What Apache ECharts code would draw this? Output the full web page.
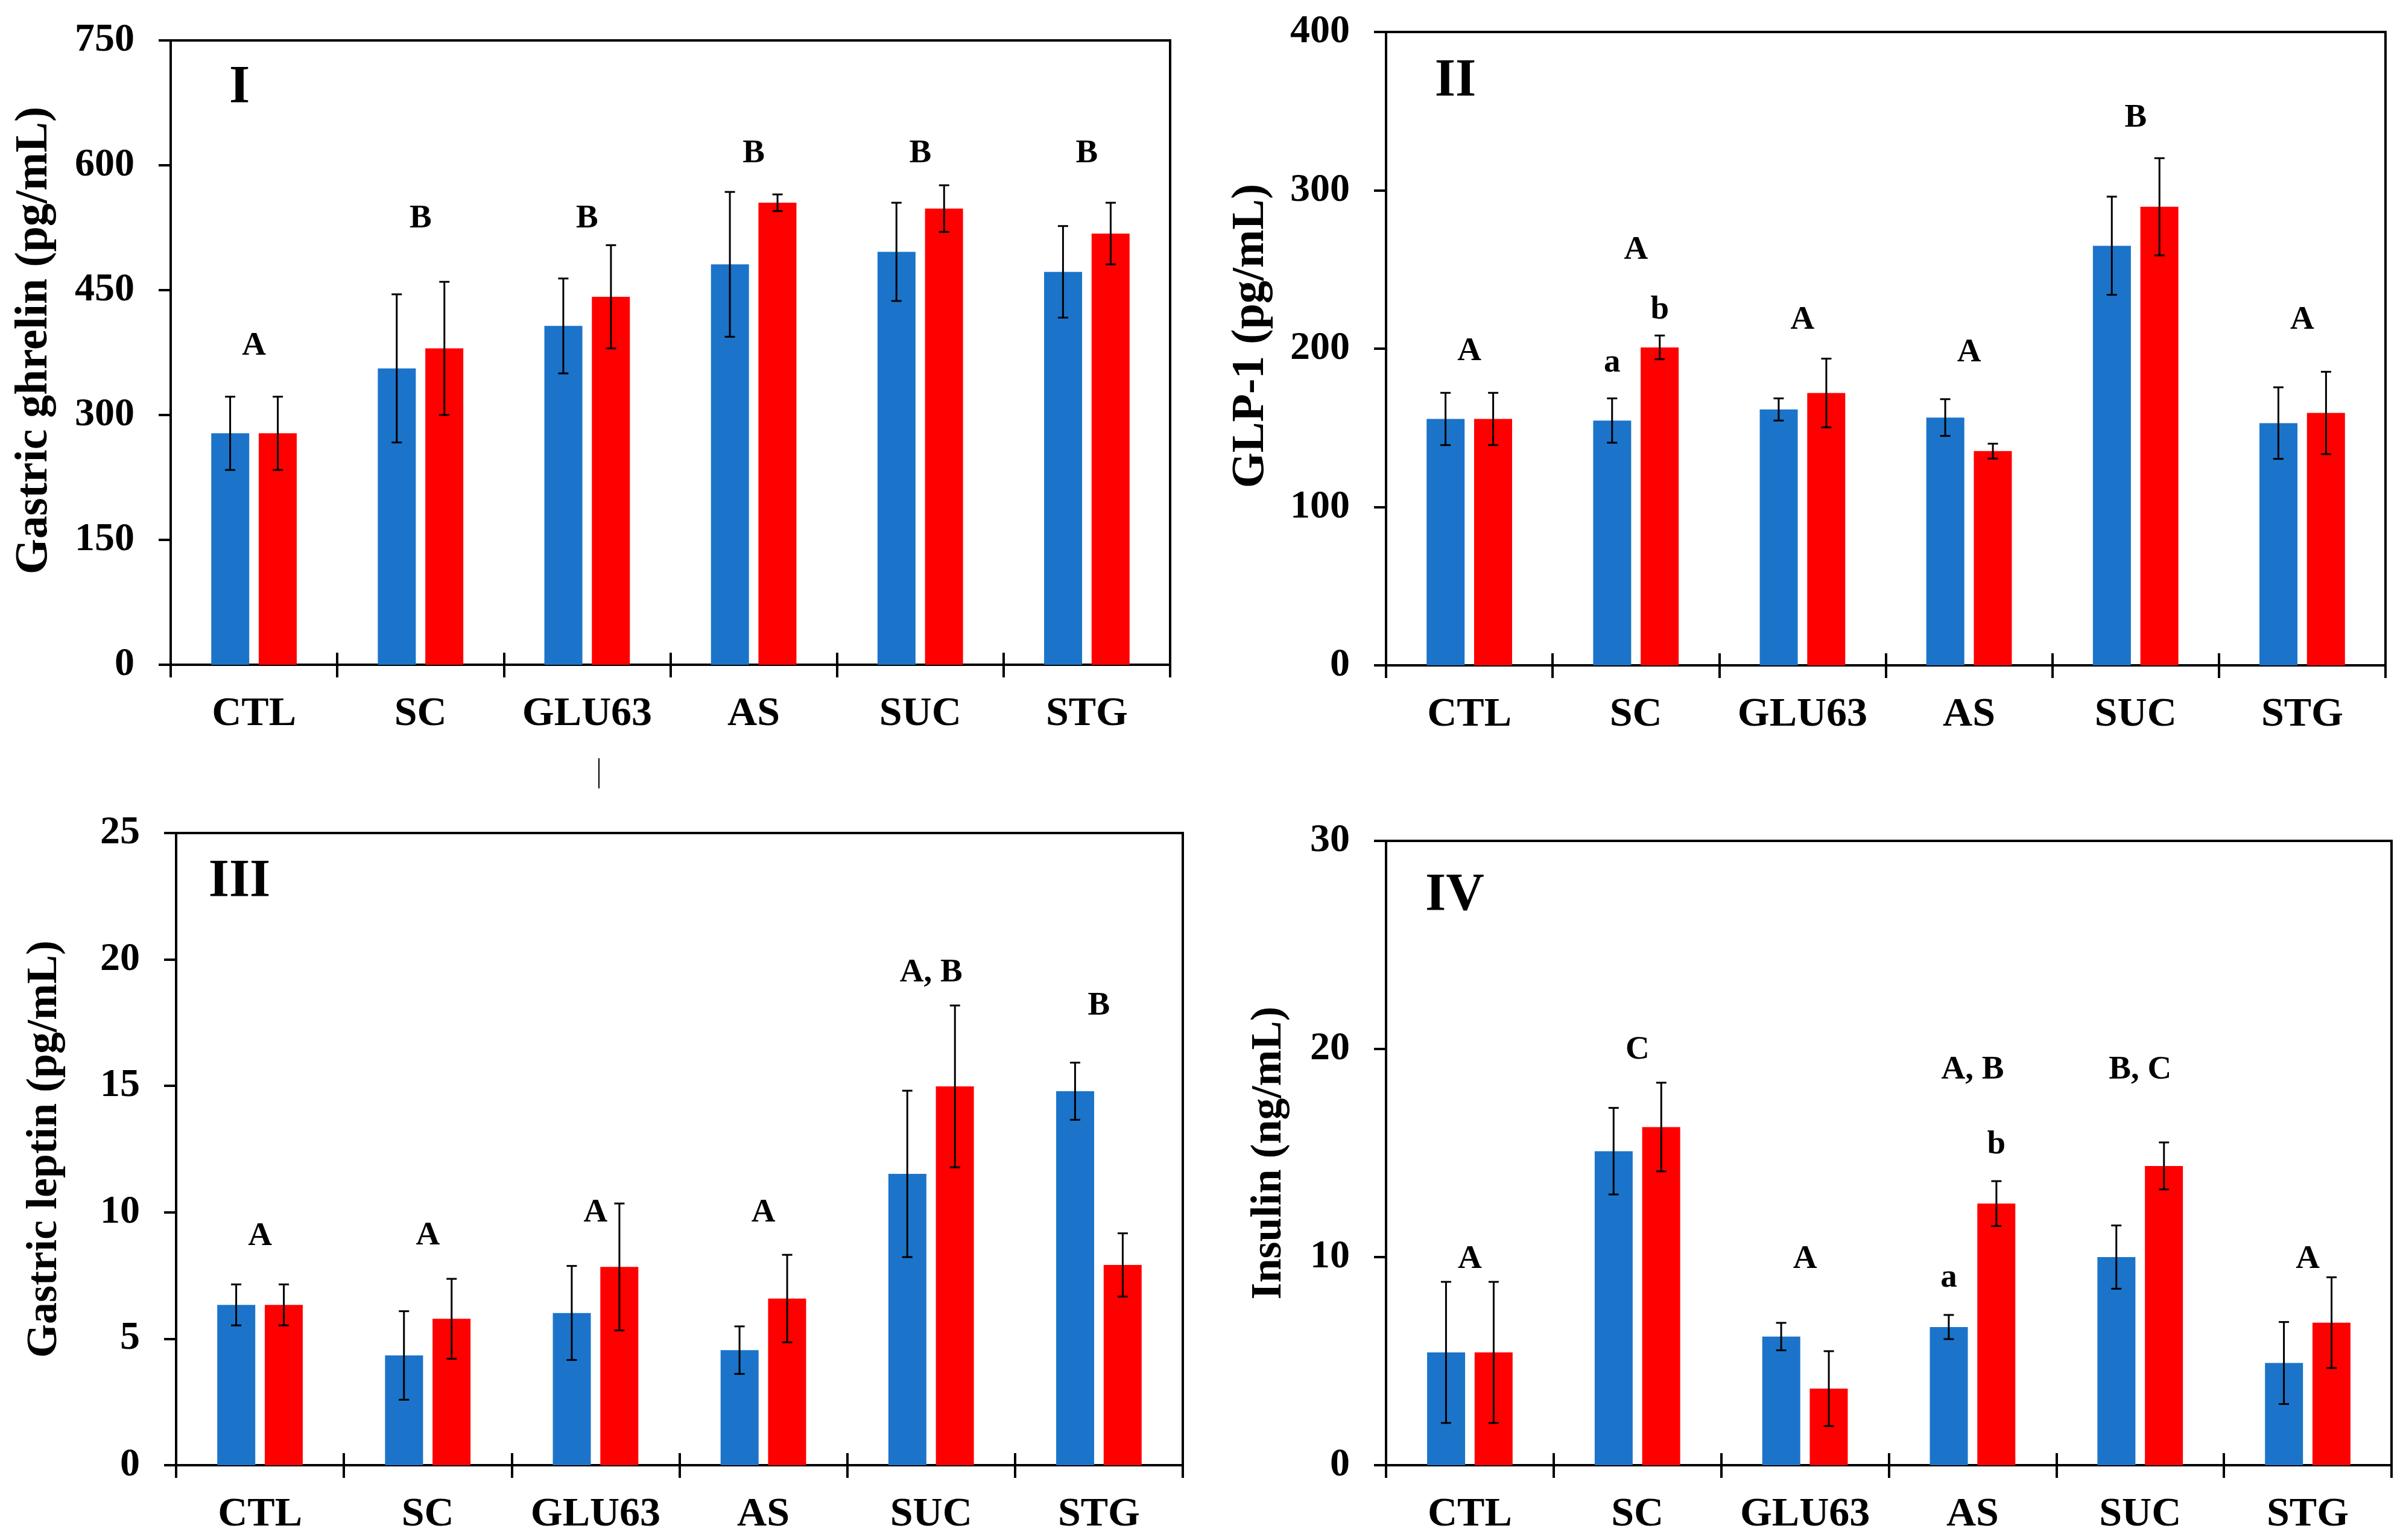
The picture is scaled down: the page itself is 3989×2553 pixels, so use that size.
<!DOCTYPE html>
<html><head><meta charset="utf-8">
<script src="https://cdn.jsdelivr.net/npm/echarts@6/dist/echarts.min.js"></script>
<style>html,body{margin:0;padding:0;background:#fff}#c{width:3989px;height:2553px}</style>
</head><body><div id="c"></div>
<script>
const categories = ['CTL','SC','GLU63','AS','SUC','STG'];

// Panel I - Gastric ghrelin (pg/mL)
const ghrelinBlue = [278, 356, 407, 481, 496, 472];
const ghrelinBlueErr = [44, 89, 57, 87, 59, 55];
const ghrelinRed = [278, 380, 442, 555, 548, 518];
const ghrelinRedErr = [44, 80, 62, 10, 28, 37];
const ghrelinTicks = {min: 0, max: 750, interval: 150};
const ghrelinLetters = [['A',0,0,383],['B',1,0,536],['B',2,0,536],['B',3,0,614],['B',4,0,614],['B',5,0,614]];

// Panel II - GLP-1 (pg/mL)
const glpBlue = [155.6, 154.6, 161.6, 156.5, 265, 153];
const glpBlueErr = [16.5, 14, 7, 11.6, 31, 22.6];
const glpRed = [155.6, 200.8, 172, 135.3, 289.6, 159.4];
const glpRedErr = [16.5, 7.5, 21.7, 4.7, 30.7, 26];
const glpTicks = {min: 0, max: 400, interval: 100};
const glpLetters = [['A',0,0,198],['A',1,0,262],['a',1,-1,191],['b',1,1,224.5],['A',2,0,218],['A',3,0,197.6],['B',4,0,345.5],['A',5,0,218]];

// Panel III - Gastric leptin (pg/mL)
const leptinBlue = [6.34, 4.34, 6.02, 4.55, 11.52, 14.79];
const leptinBlueErr = [0.81, 1.75, 1.86, 0.94, 3.29, 1.13];
const leptinRed = [6.34, 5.79, 7.84, 6.59, 14.98, 7.92];
const leptinRedErr = [0.81, 1.58, 2.51, 1.73, 3.2, 1.25];
const leptinTicks = {min: 0, max: 25, interval: 5};
const leptinLetters = [['A',0,0,9.04],['A',1,0,9.08],['A',2,0,9.98],['A',3,0,9.98],['A, B',4,0,19.46],['B',5,0,18.15]];

// Panel IV - Insulin (ng/mL)
const insulinBlue = [5.42, 15.09, 6.18, 6.64, 10.0, 4.91];
const insulinBlueErr = [3.39, 2.08, 0.66, 0.58, 1.52, 1.97];
const insulinRed = [5.42, 16.25, 3.68, 12.57, 14.38, 6.85];
const insulinRedErr = [3.39, 2.13, 1.8, 1.08, 1.13, 2.18];
const insulinTicks = {min: 0, max: 30, interval: 10};
const insulinLetters = [['A',0,0,9.9],['C',1,0,19.95],['A',2,0,9.9],['A, B',3,0,19.0],['a',3,-1,8.98],['b',3,1,15.4],['B, C',4,0,19.0],['A',5,0,9.9]];

const panelNames = ['I','II','III','IV'];
const yNames = ['Gastric ghrelin (pg/mL)','GLP-1 (pg/mL)','Gastric leptin (pg/mL)','Insulin (ng/mL)'];

const FONT = '"Liberation Serif", "Times New Roman", serif';
const BLUE = '#1B74C9', RED = '#FF0000';
const BAR_W = 63, SLOT = 39.5;

const panels = [
  {blue: ghrelinBlue, be: ghrelinBlueErr, red: ghrelinRed, re: ghrelinRedErr, ticks: ghrelinTicks, letters: ghrelinLetters,
   grid: {left: 283, top: 67, width: 1657, height: 1035}, label: [397, 146], nameSize: 76, nameGap: 188, namePad: [0, 0, 0, 40]},
  {blue: glpBlue, be: glpBlueErr, red: glpRed, re: glpRedErr, ticks: glpTicks, letters: glpLetters,
   grid: {left: 2298, top: 53, width: 1657, height: 1050}, label: [2413, 135], nameSize: 76, nameGap: 186, namePad: [0, 0, 0, 42]},
  {blue: leptinBlue, be: leptinBlueErr, red: leptinRed, re: leptinRedErr, ticks: leptinTicks, letters: leptinLetters,
   grid: {left: 292, top: 1381, width: 1669, height: 1048}, label: [397, 1462], nameSize: 72, nameGap: 182, namePad: [0, 0, 0, 0]},
  {blue: insulinBlue, be: insulinBlueErr, red: insulinRed, re: insulinRedErr, ticks: insulinTicks, letters: insulinLetters,
   grid: {left: 2298, top: 1394, width: 1667, height: 1035}, label: [2412, 1485], nameSize: 72, nameGap: 158, namePad: [0, 0, 0, 0]}
];

const grids = [], xAxes = [], yAxes = [], series = [], graphics = [];

function errRender(params, api) {
  const cat = api.value(0), v = api.value(1), e = api.value(2), slot = api.value(3);
  const x = api.coord([cat, v])[0] + slot * SLOT;
  const yt = api.coord([cat, v + e])[1];
  const yb = api.coord([cat, v - e])[1];
  const st = {stroke: '#000', lineWidth: 3};
  return {type: 'group', children: [
    {type: 'line', shape: {x1: x, y1: yt, x2: x, y2: yb}, style: st},
    {type: 'line', shape: {x1: x - 8.5, y1: yt, x2: x + 8.5, y2: yt}, style: st},
    {type: 'line', shape: {x1: x - 8.5, y1: yb, x2: x + 8.5, y2: yb}, style: st}
  ]};
}
function makeLetterRender(letters) {
  return function (params, api) {
    const item = letters[params.dataIndex];
    const cat = item[1], slot = item[2], v = item[3];
    const p = api.coord([cat, v]);
    return {type: 'text', x: p[0] + slot * SLOT, y: p[1], style: {
      text: item[0], fill: '#000', fontFamily: FONT, fontWeight: 'bold', fontSize: 55,
      align: 'center', verticalAlign: 'middle'}};
  };
}

panels.forEach((p, i) => {
  grids.push(Object.assign({show: true, borderColor: '#000', borderWidth: 4, backgroundColor: 'transparent'}, p.grid));
  xAxes.push({type: 'category', gridIndex: i, data: categories, position: 'bottom',
    axisLine: {lineStyle: {color: '#000', width: 4}},
    axisTick: {show: true, length: 21, lineStyle: {color: '#000', width: 4}},
    axisLabel: {color: '#000', fontFamily: FONT, fontWeight: 'bold', fontSize: 68, margin: 48, interval: 0},
    splitLine: {show: false}});
  yAxes.push({type: 'value', gridIndex: i, min: p.ticks.min, max: p.ticks.max, interval: p.ticks.interval,
    name: yNames[i], nameLocation: 'middle', nameGap: p.nameGap,
    nameTextStyle: {color: '#000', fontFamily: FONT, fontWeight: 'bold', fontSize: p.nameSize, padding: p.namePad},
    axisLine: {show: true, lineStyle: {color: '#000', width: 4}},
    axisTick: {show: true, length: 20, lineStyle: {color: '#000', width: 4}},
    axisLabel: {color: '#000', fontFamily: FONT, fontWeight: 'bold', fontSize: 66, margin: 60},
    splitLine: {show: false}});
  series.push({type: 'bar', xAxisIndex: i, yAxisIndex: i, data: p.blue, barWidth: BAR_W, barGap: '25%',
    itemStyle: {color: BLUE}, silent: true});
  series.push({type: 'bar', xAxisIndex: i, yAxisIndex: i, data: p.red, barWidth: BAR_W, barGap: '25%',
    itemStyle: {color: RED}, silent: true});
  const errData = [];
  p.blue.forEach((v, k) => errData.push([k, v, p.be[k], -1]));
  p.red.forEach((v, k) => errData.push([k, v, p.re[k], 1]));
  series.push({type: 'custom', xAxisIndex: i, yAxisIndex: i, data: errData, renderItem: errRender, z: 5, silent: true});
  const letterData = p.letters.map(l => [l[1], l[3]]);
  series.push({type: 'custom', xAxisIndex: i, yAxisIndex: i, data: letterData, renderItem: makeLetterRender(p.letters), z: 6, silent: true});
  graphics.push({type: 'text', x: p.label[0], y: p.label[1], style: {text: panelNames[i], fill: '#000',
    fontFamily: FONT, fontWeight: 'bold', fontSize: 88, align: 'center', verticalAlign: 'middle'}});
});
// inside half of the x-axis ticks (ticks cross the axis line)
panels.forEach((p, i) => {
  xAxes.push({type: 'category', gridIndex: i, data: categories, position: 'bottom',
    axisLine: {show: false}, axisLabel: {show: false},
    axisTick: {show: true, inside: true, length: 20, lineStyle: {color: '#000', width: 4}},
    splitLine: {show: false}});
});
graphics.push({type: 'line', shape: {x1: 993, y1: 1257, x2: 993, y2: 1307}, style: {stroke: '#000', lineWidth: 2}});

const chart = echarts.init(document.getElementById('c'), null, {renderer: 'canvas'});
chart.setOption({
  animation: false,
  backgroundColor: '#fff',
  grid: grids, xAxis: xAxes, yAxis: yAxes, series: series, graphic: graphics
});
</script></body></html>
